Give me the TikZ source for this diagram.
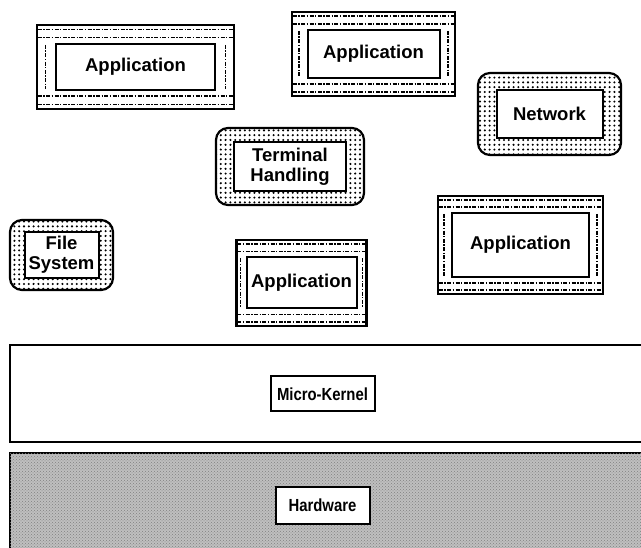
\documentclass[tikz,border=0pt]{standalone}
\usepackage{fontspec}
\setmainfont{Liberation Sans}
\newfontfamily\narrowfont[FakeStretch=0.85]{Liberation Sans}
\usetikzlibrary{patterns,calc}
\pgfdeclarepatternformonly{bigdots}{\pgfqpoint{-1.5pt}{-1.5pt}}{\pgfqpoint{1.5pt}{1.5pt}}{\pgfqpoint{4.8pt}{4.8pt}}{\pgfpathcircle{\pgfqpoint{0pt}{0pt}}{1.15pt}\pgfusepath{fill}}
\tikzset{
  appouter/.style={draw, line width=2.2pt, fill=white, inner sep=0pt},
  srvouter/.style={draw, line width=2.2pt, rounded corners=12pt, pattern=bigdots, inner sep=0pt},
  lbl/.style={draw, line width=2pt, fill=white, font=\fontsize{18.5}{20}\selectfont\bfseries, align=center, inner sep=0pt},
  layerlbl/.style={draw, line width=2pt, fill=white, font=\narrowfont\fontsize{17.5}{19}\selectfont\bfseries, inner sep=0pt},
  layerbox/.style={draw, line width=1.8pt, inner sep=0pt},
  dashpat/.style={line width=1.7pt, dash pattern=on 4pt off 1.5pt on 1.3pt off 1.5pt, shorten >=2pt, shorten <=2pt},
}
\newcommand\appdeco[2]{%
  \draw[dashpat] ($(#1.north west)!.3!(#1.west|-#2.north)$) -- ($(#1.north east)!.3!(#1.east|-#2.north)$);
  \draw[dashpat] ($(#1.north west)!.72!(#1.west|-#2.north)$) -- ($(#1.north east)!.72!(#1.east|-#2.north)$);
  \draw[dashpat] ($(#1.south west)!.3!(#1.west|-#2.south)$) -- ($(#1.south east)!.3!(#1.east|-#2.south)$);
  \draw[dashpat] ($(#1.south west)!.72!(#1.west|-#2.south)$) -- ($(#1.south east)!.72!(#1.east|-#2.south)$);
  \draw[dashpat] ($(#1.west|-#2.north)!.5!(#2.north west)$) -- ($(#1.west|-#2.south)!.5!(#2.south west)$);
  \draw[dashpat] ($(#1.east|-#2.north)!.5!(#2.north east)$) -- ($(#1.east|-#2.south)!.5!(#2.south east)$);
}
\begin{document}
\begin{tikzpicture}[x=1pt,y=-1pt]
\useasboundingbox (0,0) rectangle (641,548);
% application 1
\node[appouter, minimum width=197pt, minimum height=84pt] (a1o) at (135.5,67) {};
\node[lbl, minimum width=159pt, minimum height=46pt] (a1) at (a1o.center) {};
\appdeco{a1o}{a1}
\node[lbl, minimum width=159pt, minimum height=46pt] (a1) at (a1o.center) {Application};
% application 2
\node[appouter, minimum width=163pt, minimum height=84pt] (a2o) at (373.5,54) {};
\node[lbl, minimum width=132pt, minimum height=48pt] (a2) at (a2o.center) {};
\appdeco{a2o}{a2}
\node[lbl, minimum width=132pt, minimum height=48pt] (a2) at (a2o.center) {Application};
% network
\node[srvouter, minimum width=143pt, minimum height=82pt] (neto) at (549.5,114) {};
\node[lbl, minimum width=106pt, minimum height=48pt] (net) at (neto.center) {Network};
% terminal handling
\node[srvouter, minimum width=148pt, minimum height=77pt] (termo) at (290,166.5) {};
\node[lbl, minimum width=112pt, minimum height=49pt] (term) at (termo.center) {Terminal\\Handling};
% file system
\node[srvouter, minimum width=103pt, minimum height=70pt] (fso) at (61.5,255) {};
\node[lbl, minimum width=74pt, minimum height=46pt] (fs) at (fso.center) {File\\System};
% application 3 (bottom middle)
\node[appouter, minimum width=130pt, minimum height=86pt] (a3o) at (301.5,283) {};
\node[lbl, minimum width=110pt, minimum height=51pt] (a3) at (a3o.center) {};
\appdeco{a3o}{a3}
\node[lbl, minimum width=110pt, minimum height=51pt] (a3) at (a3o.center) {Application};
% application 4 (right)
\node[appouter, minimum width=165pt, minimum height=98pt] (a4o) at (520.5,245) {};
\node[lbl, minimum width=137pt, minimum height=64pt] (a4) at (a4o.center) {};
\appdeco{a4o}{a4}
\node[lbl, minimum width=137pt, minimum height=64pt] (a4) at (a4o.center) {Application};
% micro-kernel layer
\node[layerbox, fill=white, minimum width=650pt, minimum height=97pt] (mkl) at (335,393.5) {};
\node[layerlbl, minimum width=104pt, minimum height=35pt] (mk) at (322.5,394) {Micro-Kernel};
% hardware layer
\node[layerbox, fill=gray!50, postaction={pattern=crosshatch dots, pattern color=gray!100}, minimum width=650pt, minimum height=104pt] (hwl) at (335,505) {};
\node[layerlbl, minimum width=94pt, minimum height=37pt] (hw) at (322.5,505.5) {Hardware};
\end{tikzpicture}
\end{document}
